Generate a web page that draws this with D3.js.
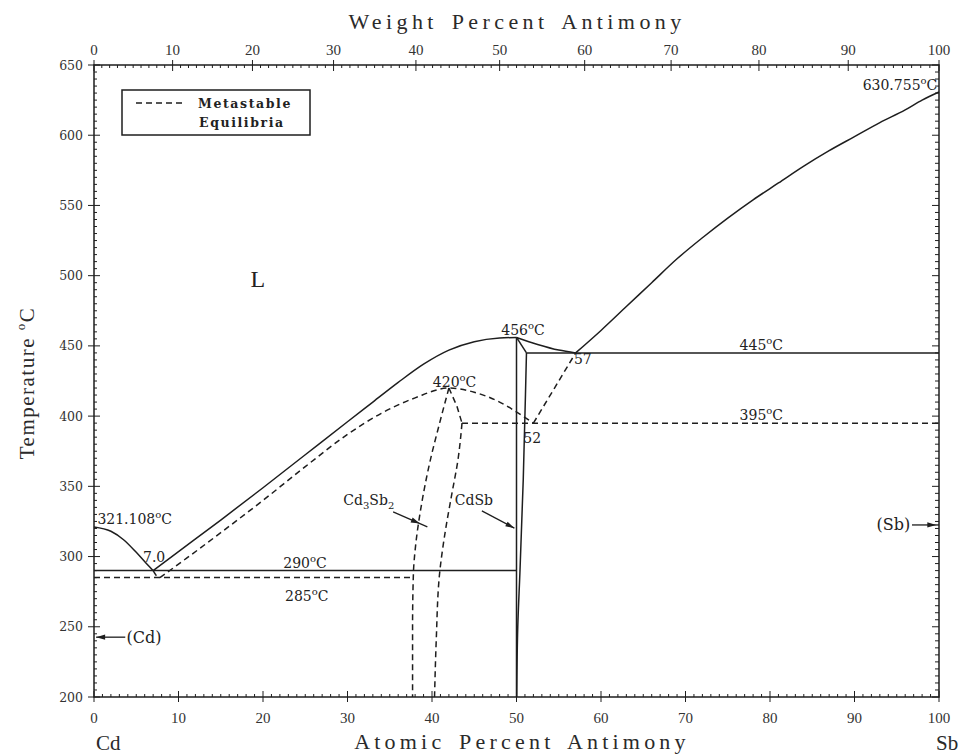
<!DOCTYPE html>
<html><head><meta charset="utf-8">
<script src="https://cdn.jsdelivr.net/npm/d3@7"></script>
<style>
body{margin:0;background:#fff;}
svg{display:block;}
</style></head>
<body>
<svg id="chart" width="963" height="755"></svg>
<script>
// ---------- DATA (atomic % Sb, temperature °C) ----------
const xTicks = [0,10,20,30,40,50,60,70,80,90,100];
const wtTicks = [0,10,20,30,40,50,60,70,80,90,100];
const yTicks = [200,250,300,350,400,450,500,550,600,650];

const cdLiquidus = [[0,321.108],[2,318],[3.5,312],[5,303],[6.2,295],[7,290]];
const liquidusToCdSb = [[7,290],[10,303.5],[15,326],[20,349],[25,372.5],[30,396],[33,410],[36,424],[39,437],[42,447],[45,453],[48,455.6],[50,456]];
const liquidusCdSbTo57 = [[50,456],[52.5,451],[55,447],[57,445]];
const sbLiquidus = [[57,445],[60,461],[63,478],[66,495],[69,512],[72,527],[75,541],[78,554],[81,566],[84,578],[87,589],[90,599],[93,609],[96,618],[98,625],[100,630.755]];
const cdsbLeft = [[50,456],[50,200]];
const cdsbRightTop = [[50,456],[51.18,445]];
const cdsbRight = [[51.18,445],[51.1,425],[50.8,355],[50.4,288],[50.15,250],[50.03,200]];
const eutectic290 = [[0,290],[50,290]];
const eutectic445 = [[51.18,445],[100,445]];

// metastable
const metaCdHook = [[7,290],[7.4,286.3],[7.8,285]];
const metaLiquidus = [[7.8,285],[11,299],[15,317],[20,340],[25,364],[30,387],[34,402],[38,413],[42,420],[45,417],[48,410],[50.5,401],[52,395]];
const metaSbLiquidus = [[52,395],[54.5,420],[57,445]];
const meta285 = [[0,285],[37.8,285]];
const meta395 = [[43.55,395],[100,395]];
const cd3sb2Left = [[42,420],[40.9,395],[39.7,366],[38.7,335],[38.1,310],[37.8,288],[37.7,250],[37.7,200]];
const cd3sb2RightTop = [[42,420],[42.95,407],[43.55,395]];
const cd3sb2Right = [[43.55,395],[43.1,370],[42.3,343],[41.6,319],[40.9,288],[40.5,240],[40.3,200]];

// ---------- LAYOUT ----------
const svg = d3.select("#chart");
const x = d3.scaleLinear().domain([0,100]).range([94,939]);
const y = d3.scaleLinear().domain([200,650]).range([697,65]);
const ink = "#1e1e1e";

// weight% -> atomic% conversion (Cd 112.411, Sb 121.760)
const wtToAt = w => { const s=w/121.760, c=(100-w)/112.411; return 100*s/(s+c); };

const gens = {
  straight: d3.line().x(d=>x(d[0])).y(d=>y(d[1])),
  monoX: d3.line().x(d=>x(d[0])).y(d=>y(d[1])).curve(d3.curveMonotoneX),
  monoY: d3.line().x(d=>x(d[0])).y(d=>y(d[1])).curve(d3.curveMonotoneY)
};

function draw(data, dashed, kind){
  svg.append("path").attr("d",gens[kind](data))
    .attr("fill","none").attr("stroke",ink).attr("stroke-width",1.5)
    .attr("stroke-dasharray",dashed?"6,4":null).attr("stroke-linejoin","round");
}

// ---------- FRAME & TICKS ----------
const fr = svg.append("g").attr("stroke",ink).attr("stroke-width",1.5).attr("fill","none");
fr.append("rect").attr("x",x(0)).attr("y",y(650)).attr("width",x(100)-x(0)).attr("height",y(200)-y(650));

const tk = svg.append("g").attr("stroke",ink).attr("stroke-width",1);
d3.range(0,101,1).forEach(v=>{
  const major = v%10===0;
  tk.append("line").attr("x1",x(v)).attr("x2",x(v)).attr("y1",y(200)+(major?5:0)).attr("y2",y(200)-(major?6:3));
});
d3.range(0,101,1).forEach(v=>{
  const major = v%10===0;
  tk.append("line").attr("x1",x(wtToAt(v))).attr("x2",x(wtToAt(v))).attr("y1",y(650)-(major?5:0)).attr("y2",y(650)+(major?6:3));
});
d3.range(200,651,5).forEach(v=>{
  const major = v%50===0;
  tk.append("line").attr("x1",x(0)-(major?6:0)).attr("x2",x(0)+(major?6:3)).attr("y1",y(v)).attr("y2",y(v));
  tk.append("line").attr("x1",x(100)).attr("x2",x(100)-(major?7:4)).attr("y1",y(v)).attr("y2",y(v));
});

// tick labels
const tl = svg.append("g").attr("fill","#333");
xTicks.forEach(v=>{
  tl.append("text").attr("x",x(v)).attr("y",723).attr("text-anchor","middle")
    .attr("font-family","Liberation Serif").attr("font-size",15).text(v);
});
wtTicks.forEach(v=>{
  tl.append("text").attr("x",x(wtToAt(v))).attr("y",55).attr("text-anchor","middle")
    .attr("font-family","Liberation Serif").attr("font-size",15).text(v);
});
yTicks.forEach(v=>{
  tl.append("text").attr("x",83).attr("y",y(v)+4.5).attr("text-anchor","end")
    .attr("font-family","DejaVu Serif").attr("font-size",12.5).text(v);
});

// axis titles
const tt = svg.append("g").attr("fill","#2a2a2a").attr("font-family","Liberation Serif");
tt.append("text").attr("x",517).attr("y",29).attr("text-anchor","middle").attr("font-size",22)
  .attr("letter-spacing",4.4).attr("word-spacing",4).text("Weight Percent Antimony");
tt.append("text").attr("x",522).attr("y",749).attr("text-anchor","middle").attr("font-size",22)
  .attr("letter-spacing",4.2).attr("word-spacing",4).text("Atomic Percent Antimony");
tt.append("text").attr("x",96).attr("y",750).attr("font-size",21).text("Cd");
tt.append("text").attr("x",936).attr("y",750).attr("font-size",21).text("Sb");
const yt = tt.append("text").attr("transform","translate(34,383) rotate(-90)").attr("text-anchor","middle")
  .attr("font-size",21).attr("letter-spacing",1.5);
yt.append("tspan").text("Temperature ");
yt.append("tspan").attr("font-size",13).attr("dy",-9).text("o");
yt.append("tspan").attr("dy",9).text("C");

// ---------- PHASE BOUNDARIES ----------
draw(cdLiquidus,false,"monoX");
draw(liquidusToCdSb,false,"monoX");
draw(liquidusCdSbTo57,false,"monoX");
draw(sbLiquidus,false,"monoX");
draw(cdsbLeft,false,"straight");
draw(cdsbRightTop,false,"straight");
draw(cdsbRight,false,"monoY");
draw(eutectic290,false,"straight");
draw(eutectic445,false,"straight");

draw(metaCdHook,true,"monoX");
draw(metaLiquidus,true,"monoX");
draw(metaSbLiquidus,true,"straight");
draw(meta285,true,"straight");
draw(meta395,true,"straight");
draw(cd3sb2Left,true,"monoY");
draw(cd3sb2RightTop,true,"straight");
draw(cd3sb2Right,true,"monoY");

// ---------- ARROWS ----------
function arrow(a0,t0,a1,t1,headFrac){
  const x0=x(a0),y0=y(t0),x1=x(a1),y1=y(t1);
  svg.append("line").attr("x1",x0).attr("y1",y0).attr("x2",x1).attr("y2",y1)
    .attr("stroke",ink).attr("stroke-width",1.3);
  const hx=x0+(x1-x0)*headFrac, hy=y0+(y1-y0)*headFrac;
  const ang=Math.atan2(y1-y0,x1-x0), L=9, W=2.6;
  const bx=hx-L*Math.cos(ang), by=hy-L*Math.sin(ang);
  const px=-Math.sin(ang)*W, py=Math.cos(ang)*W;
  svg.append("path").attr("d",`M${hx},${hy}L${bx+px},${by+py}L${bx-px},${by-py}Z`).attr("fill",ink);
}
arrow(35.4,331.8,39.45,321.1,0.78);   // Cd3Sb2
arrow(45.9,332.5,49.75,320.2,1);      // CdSb
arrow(3.7,242.6,0.25,242.6,1);        // (Cd)
arrow(96.8,322.5,100,322.5,0.9);      // (Sb)

// ---------- LABELS ----------
const lab = svg.append("g").attr("fill","#222").attr("font-family","DejaVu Serif").attr("font-size",14);
function degLabel(a,t,val,anchor){
  const txt = lab.append("text").attr("x",x(a)).attr("y",y(t)).attr("text-anchor",anchor||"start");
  txt.append("tspan").text(val);
  txt.append("tspan").attr("font-size",10).attr("dy",-6).text("o");
  txt.append("tspan").attr("dy",6).text("C");
}
degLabel(0.4,323,"321.108");
degLabel(48.2,457.5,"456");
degLabel(40.1,421,"420");
degLabel(76.4,447,"445");
degLabel(76.4,397.5,"395");
degLabel(22.4,291.5,"290");
degLabel(22.6,268.5,"285");
degLabel(99.8,632,"630.755","end");
lab.append("text").attr("x",x(5.8)).attr("y",y(296)).text("7.0");
lab.append("text").attr("x",x(56.8)).attr("y",y(437)).text("57");
lab.append("text").attr("x",x(50.8)).attr("y",y(381)).text("52");
lab.append("text").attr("x",x(19.4)).attr("y",y(492)).attr("text-anchor","middle")
  .attr("font-size",24).attr("font-family","Liberation Serif").text("L");
const c32 = lab.append("text").attr("x",x(29.5)).attr("y",y(336.5));
c32.append("tspan").text("Cd");
c32.append("tspan").attr("font-size",10).attr("dy",4).text("3");
c32.append("tspan").attr("dy",-4).text("Sb");
c32.append("tspan").attr("font-size",10).attr("dy",4).text("2");
lab.append("text").attr("x",x(42.7)).attr("y",y(337)).text("CdSb");
lab.append("text").attr("x",x(3.85)).attr("y",y(242.6)+5.5).attr("font-size",16).text("(Cd)");
lab.append("text").attr("x",x(96.6)).attr("y",y(322.5)+5.5).attr("font-size",16).attr("text-anchor","end").text("(Sb)");

// ---------- LEGEND ----------
const lg = svg.append("g");
lg.append("rect").attr("x",122).attr("y",90).attr("width",188).attr("height",45)
  .attr("fill","none").attr("stroke",ink).attr("stroke-width",1.5);
lg.append("line").attr("x1",136).attr("x2",184).attr("y1",103).attr("y2",103)
  .attr("stroke",ink).attr("stroke-width",1.3).attr("stroke-dasharray","6,4");
lg.append("text").attr("x",198).attr("y",108).attr("font-family","DejaVu Serif").attr("font-weight","bold")
  .attr("font-size",12.5).attr("letter-spacing",1.6).attr("fill","#222").text("Metastable");
lg.append("text").attr("x",199).attr("y",127).attr("font-family","DejaVu Serif").attr("font-weight","bold")
  .attr("font-size",12.5).attr("letter-spacing",1.6).attr("fill","#222").text("Equilibria");
</script>
</body></html>
